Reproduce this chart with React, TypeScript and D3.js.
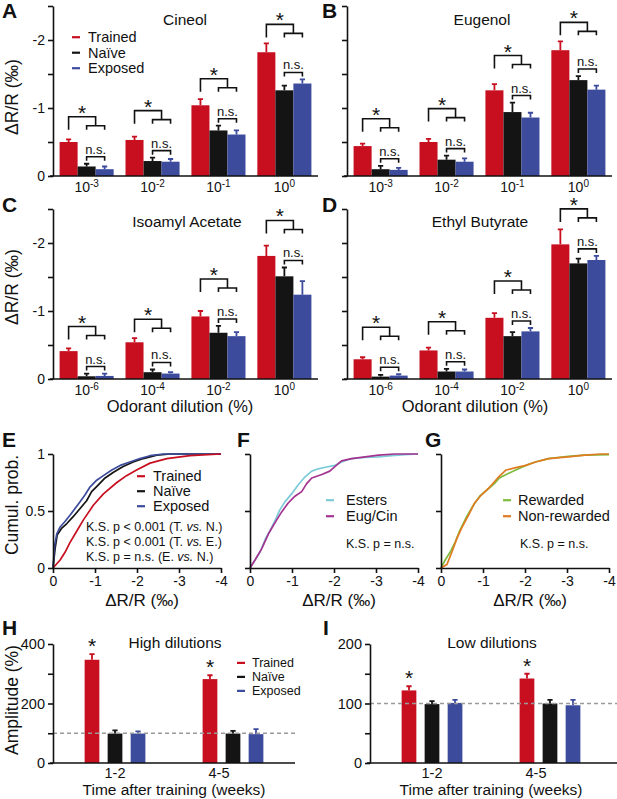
import React from 'react';
import * as d3 from 'd3';

const FONT = '"Liberation Sans", Arial, Helvetica, sans-serif';

const groups = ['Trained', 'Naïve', 'Exposed'];
const groupColors = ['#c70f1f', '#141414', '#3d4b9d'];

const dilutionsAB = ['-3', '-2', '-1', '0'];
const dilutionsCD = ['-6', '-4', '-2', '0'];

// A - Cineol (magnitude of the negative ΔR/R, ‰)
const cineolTrained = [0.5, 0.53, 1.04, 1.82];
const cineolTrainedSem = [0.04, 0.05, 0.09, 0.13];
const cineolNaive = [0.14, 0.22, 0.67, 1.26];
const cineolNaiveSem = [0.04, 0.05, 0.07, 0.07];
const cineolExposed = [0.1, 0.21, 0.61, 1.36];
const cineolExposedSem = [0.04, 0.04, 0.06, 0.06];

// B - Eugenol
const eugenolTrained = [0.44, 0.5, 1.26, 1.85];
const eugenolTrainedSem = [0.035, 0.045, 0.09, 0.13];
const eugenolNaive = [0.1, 0.24, 0.94, 1.41];
const eugenolNaiveSem = [0.05, 0.06, 0.14, 0.06];
const eugenolExposed = [0.09, 0.21, 0.86, 1.27];
const eugenolExposedSem = [0.03, 0.05, 0.07, 0.06];

// C - Isoamyl acetate
const isoamylTrained = [0.41, 0.54, 0.92, 1.81];
const isoamylTrainedSem = [0.04, 0.06, 0.08, 0.15];
const isoamylNaive = [0.04, 0.1, 0.68, 1.51];
const isoamylNaiveSem = [0.04, 0.04, 0.1, 0.13];
const isoamylExposed = [0.045, 0.08, 0.63, 1.24];
const isoamylExposedSem = [0.035, 0.02, 0.06, 0.2];

// D - Ethyl butyrate
const ethylTrained = [0.29, 0.42, 0.9, 1.98];
const ethylTrainedSem = [0.03, 0.04, 0.07, 0.22];
const ethylNaive = [0.035, 0.11, 0.63, 1.7];
const ethylNaiveSem = [0.025, 0.04, 0.06, 0.07];
const ethylExposed = [0.05, 0.11, 0.7, 1.75];
const ethylExposedSem = [0.02, 0.03, 0.05, 0.06];

// E - cumulative distributions [|ΔR/R|, prob]
const trainedCdf: [number, number][] = [
  [0, 0], [0.17, 0.07], [0.29, 0.14], [0.4, 0.22], [0.56, 0.32], [0.72, 0.42], [0.96, 0.55],
  [1.2, 0.65], [1.52, 0.75], [1.75, 0.81], [1.99, 0.86], [2.31, 0.92], [2.71, 0.96], [3.26, 0.985], [4, 1],
];
const naiveCdf: [number, number][] = [
  [0, 0], [0.05, 0.17], [0.1, 0.29], [0.21, 0.35], [0.33, 0.39], [0.48, 0.45], [0.64, 0.52],
  [0.8, 0.59], [0.92, 0.67], [1.08, 0.73], [1.24, 0.79], [1.44, 0.84], [1.67, 0.89], [1.91, 0.93],
  [2.15, 0.96], [2.47, 0.99], [2.79, 1], [4, 1],
];
const exposedCdf: [number, number][] = [
  [0, 0], [0.04, 0.2], [0.09, 0.3], [0.17, 0.36], [0.29, 0.41], [0.4, 0.46], [0.52, 0.52],
  [0.64, 0.58], [0.76, 0.64], [0.88, 0.71], [1.04, 0.77], [1.2, 0.81], [1.4, 0.86], [1.6, 0.9],
  [1.83, 0.93], [2.07, 0.96], [2.31, 0.985], [2.63, 1], [4, 1],
];

// F
const estersCdf: [number, number][] = [
  [0, 0], [0.12, 0.07], [0.24, 0.14], [0.36, 0.25], [0.48, 0.33], [0.6, 0.42], [0.71, 0.51],
  [0.83, 0.58], [0.99, 0.65], [1.15, 0.73], [1.31, 0.8], [1.47, 0.85], [1.63, 0.87], [1.87, 0.89],
  [2.02, 0.9], [2.18, 0.93], [2.42, 0.96], [2.74, 0.97], [3.06, 0.975], [3.37, 0.985], [3.69, 0.995], [4, 1],
];
const eugCinCdf: [number, number][] = [
  [0, 0], [0.12, 0.07], [0.28, 0.17], [0.44, 0.3], [0.6, 0.4], [0.75, 0.49], [0.91, 0.57],
  [1.07, 0.63], [1.23, 0.67], [1.35, 0.74], [1.47, 0.79], [1.71, 0.82], [1.9, 0.85], [2.02, 0.89],
  [2.18, 0.94], [2.42, 0.96], [2.74, 0.975], [3.06, 0.99], [3.45, 1], [4, 1],
];

// G
const rewardedCdf: [number, number][] = [
  [0, 0], [0.1, 0.07], [0.22, 0.14], [0.34, 0.23], [0.45, 0.33], [0.61, 0.45], [0.77, 0.55],
  [0.92, 0.63], [1.08, 0.68], [1.27, 0.74], [1.39, 0.79], [1.55, 0.82], [1.78, 0.86], [2.02, 0.9],
  [2.25, 0.93], [2.56, 0.96], [3.03, 0.98], [3.42, 0.99], [4, 0.995],
];
const nonRewardedCdf: [number, number][] = [
  [0, 0], [0.14, 0.03], [0.26, 0.14], [0.38, 0.26], [0.49, 0.35], [0.65, 0.46], [0.8, 0.57],
  [0.96, 0.64], [1.16, 0.71], [1.35, 0.79], [1.55, 0.86], [1.78, 0.88], [2.02, 0.9], [2.25, 0.93],
  [2.56, 0.96], [3.03, 0.975], [3.42, 0.99], [3.81, 1], [4, 1],
];

const cdfTicks = [0, 1, 2, 3, 4];
const ksE = ['K.S. p < 0.001 (T. vs. N.)', 'K.S. p < 0.001 (T. vs. E.)', 'K.S. p = n.s. (E. vs. N.)'];
const ksNs = ['K.S. p = n.s.'];

// H, I - amplitude (%)
const weeks = ['1-2', '4-5'];
const highTrained = [347, 282];
const highTrainedSem = [19, 13];
const highNaive = [99, 99];
const highNaiveSem = [11, 9];
const highExposed = [99, 97];
const highExposedSem = [7, 17];
const lowTrained = [122, 142];
const lowTrainedSem = [7, 8];
const lowNaive = [99, 100];
const lowNaiveSem = [5, 6];
const lowExposed = [101, 97];
const lowExposedSem = [5, 9];

type G = d3.Selection<SVGGElement, unknown, null, undefined>;

const letter = (g: G, t: string, x: number, y: number) =>
  g.append('text').attr('x', x).attr('y', y).attr('font-size', 21).attr('font-weight', 'bold').text(t);

const yAxis = (g: G, y: d3.ScaleLinear<number, number>, x0: number, ticks: number[], fmt: (d: number) => string, fs: number) => {
  const a = g.append('g').attr('transform', `translate(${x0},0)`)
    .call(d3.axisLeft(y).tickValues(ticks).tickSize(5).tickSizeOuter(0).tickPadding(3).tickFormat((d) => fmt(+d)));
  a.attr('font-size', fs).attr('font-family', FONT);
  a.selectAll('path, line').attr('stroke', '#111').attr('stroke-width', 1.6);
  a.selectAll('text').attr('fill', '#111');
};

const rotTitle = (g: G, t: string, x: number, y: number, fs: number) =>
  g.append('text').attr('transform', `translate(${x},${y}) rotate(-90)`).attr('text-anchor', 'middle')
    .attr('dominant-baseline', 'central').attr('font-size', fs).text(t);

const legend = (g: G, labels: string[], colors: string[], lx: number, tx: number, y0: number, dy: number, fs: number) => {
  labels.forEach((l, i) => {
    const yy = y0 + i * dy;
    g.append('line').attr('x1', lx).attr('x2', lx + 8).attr('y1', yy - fs * 0.33).attr('y2', yy - fs * 0.33)
      .attr('stroke', colors[i]).attr('stroke-width', 2.2);
    g.append('text').attr('x', tx).attr('y', yy).attr('font-size', fs).text(l);
  });
};

interface BarPanel {
  left: number; right: number; top: number; base: number;
  cats: string[]; means: number[][]; sems: number[][];
  title: string; titleX: number; titleY: number;
  yLabels: boolean; letterX: number; letterY: number; letterT: string;
}

function drawBarPanel(root: G, p: BarPanel) {
  const g = root.append('g');
  const x = d3.scaleBand<string>().domain(p.cats).range([p.left, p.right]).paddingInner(0.18).paddingOuter(0.1);
  const sub = d3.scaleBand<number>().domain([0, 1, 2]).range([0, x.bandwidth()]);
  const y = d3.scaleLinear().domain([0, 2.5]).range([p.base, p.top]);
  const cells = p.cats.flatMap((c, ci) => groups.map((_, si) => ({ c, ci, si, v: p.means[si][ci], e: p.sems[si][ci] })));
  const cx = (d: { c: string; si: number }) => x(d.c)! + sub(d.si)! + sub.bandwidth() / 2;

  g.selectAll('path.err').data(cells).join('path')
    .attr('d', (d) => `M${cx(d)},${y(d.v)}V${y(d.v + d.e)}M${cx(d) - 2.6},${y(d.v + d.e)}H${cx(d) + 2.6}`)
    .attr('stroke', (d) => groupColors[d.si]).attr('stroke-width', 1.8).attr('fill', 'none');
  g.selectAll('rect').data(cells).join('rect')
    .attr('x', (d) => x(d.c)! + sub(d.si)!).attr('y', (d) => y(d.v))
    .attr('width', sub.bandwidth()).attr('height', (d) => y(0) - y(d.v))
    .attr('fill', (d) => groupColors[d.si]);

  yAxis(g, y, p.left, [0, 0.5, 1, 1.5, 2, 2.5], (d) => (p.yLabels && Number.isInteger(d) ? (d === 0 ? '0' : `-${d}`) : ''), 14);
  g.append('line').attr('x1', p.left - 3).attr('x2', p.right).attr('y1', p.base).attr('y2', p.base)
    .attr('stroke', '#111').attr('stroke-width', 1.6);

  g.selectAll('text.xt').data(p.cats).join('text')
    .attr('x', (c) => x(c)! + x.bandwidth() / 2).attr('y', p.base + 16)
    .attr('text-anchor', 'middle').attr('font-size', 14)
    .each(function (c) {
      const t = d3.select(this);
      t.append('tspan').text('10');
      t.append('tspan').attr('dy', -5).attr('font-size', 10).text(c);
    });

  // significance brackets
  p.cats.forEach((c, ci) => {
    const bx = (si: number) => x(c)! + sub(si)! + sub.bandwidth() / 2;
    const tp = (si: number) => y(p.means[si][ci] + p.sems[si][ci]);
    const xR = bx(0), xK = bx(1), xB = bx(2), xM = (xK + xB) / 2;
    const nsY = Math.min(tp(1), tp(2)) - 7;
    const arm = Math.min(tp(0) - 6, nsY - 27);
    const hi = arm - 13;
    g.append('path').attr('d', `M${xK},${nsY + 4}V${nsY}H${xB}V${nsY + 4}`).attr('fill', 'none').attr('stroke', '#111').attr('stroke-width', 1.6);
    g.append('text').attr('x', xM).attr('y', nsY - 3).attr('text-anchor', 'middle').attr('font-size', 13).text('n.s.');
    g.append('path').attr('d', `M${xK},${arm}V${arm - 4}H${xB}V${arm}M${xR},${arm}V${hi}H${xM}V${arm - 4}`)
      .attr('fill', 'none').attr('stroke', '#111').attr('stroke-width', 1.6);
    g.append('text').attr('x', (xR + xM) / 2).attr('y', hi + 3).attr('text-anchor', 'middle').attr('font-size', 21).text('*');
  });

  g.append('text').attr('x', p.titleX).attr('y', p.titleY).attr('text-anchor', 'middle').attr('font-size', 15.5).text(p.title);
  letter(g, p.letterT, p.letterX, p.letterY);
}

interface CdfPanel {
  left: number; right: number; top: number; base: number;
  series: [number, number][][]; colors: string[]; labels: string[]; labelColors: string[];
  legLx: number; legTx: number; legY: number; legDy: number;
  ks: string[]; ksX: number; ksY: number;
  yLabels: boolean; letterT: string; letterX: number; letterY: number;
}

function drawCdfPanel(root: G, p: CdfPanel) {
  const g = root.append('g');
  const x = d3.scaleLinear().domain([0, 4]).range([p.left, p.right]);
  const y = d3.scaleLinear().domain([0, 1]).range([p.base, p.top]);
  const line = d3.line<[number, number]>().x((d) => x(d[0])).y((d) => y(d[1]));
  g.selectAll('path.cdf').data(p.series).join('path')
    .attr('d', (d) => line(d)).attr('fill', 'none')
    .attr('stroke', (_, i) => p.colors[i]).attr('stroke-width', 1.7).attr('stroke-linejoin', 'round');

  yAxis(g, y, p.left, [0, 0.5, 1], (d) => (p.yLabels ? String(d) : ''), 14);
  const xa = g.append('g').attr('transform', `translate(0,${p.base})`)
    .call(d3.axisBottom(x).tickValues(cdfTicks).tickSize(5).tickSizeOuter(0).tickPadding(3).tickFormat((d) => (+d === 0 ? '0' : `-${d}`)));
  xa.attr('font-size', 14).attr('font-family', FONT);
  xa.selectAll('path, line').attr('stroke', '#111').attr('stroke-width', 1.6);
  xa.selectAll('text').attr('fill', '#111');

  g.append('text').attr('x', (p.left + p.right) / 2 + 5).attr('y', p.base + 38).attr('text-anchor', 'middle')
    .attr('font-size', 17).text('ΔR/R (‰)');

  legend(g, p.labels, p.labelColors, p.legLx, p.legTx, p.legY, p.legDy, 14.5);

  p.ks.forEach((s, i) => {
    const t = g.append('text').attr('x', p.ksX).attr('y', p.ksY + i * 15).attr('font-size', 12.5);
    s.split('vs.').forEach((part, j) => {
      if (j > 0) t.append('tspan').attr('font-style', 'italic').text('vs.');
      t.append('tspan').text(part);
    });
  });
  letter(g, p.letterT, p.letterX, p.letterY);
}

interface AmpPanel {
  left: number; right: number; top: number; base: number; max: number; ticks: number[]; labelTicks: number[];
  means: number[][]; sems: number[][]; title: string; titleX: number;
  letterT: string; letterX: number; dashEnd: number; showLegend: boolean;
}

function drawAmpPanel(root: G, p: AmpPanel) {
  const g = root.append('g');
  const x = d3.scaleBand<string>().domain(weeks).range([p.left, p.right]).paddingInner(0.407).paddingOuter(0.229);
  const sub = d3.scaleBand<number>().domain([0, 1, 2]).range([0, x.bandwidth()]).paddingInner(0.36).paddingOuter(0.2);
  const y = d3.scaleLinear().domain([0, p.max]).range([p.base, p.top]);
  const cells = weeks.flatMap((c, ci) => groups.map((_, si) => ({ c, ci, si, v: p.means[si][ci], e: p.sems[si][ci] })));
  const cx = (d: { c: string; si: number }) => x(d.c)! + sub(d.si)! + sub.bandwidth() / 2;

  g.selectAll('path.err').data(cells).join('path')
    .attr('d', (d) => `M${cx(d)},${y(d.v)}V${y(d.v + d.e)}M${cx(d) - 2.6},${y(d.v + d.e)}H${cx(d) + 2.6}`)
    .attr('stroke', (d) => groupColors[d.si]).attr('stroke-width', 1.8).attr('fill', 'none');
  g.selectAll('rect').data(cells).join('rect')
    .attr('x', (d) => x(d.c)! + sub(d.si)!).attr('y', (d) => y(d.v))
    .attr('width', sub.bandwidth()).attr('height', (d) => y(0) - y(d.v))
    .attr('fill', (d) => groupColors[d.si]);

  g.append('line').attr('x1', p.left).attr('x2', p.dashEnd).attr('y1', y(100)).attr('y2', y(100))
    .attr('stroke', '#9a9a9a').attr('stroke-width', 1.6).attr('stroke-dasharray', '4,3');

  yAxis(g, y, p.left, p.ticks, (d) => (p.labelTicks.includes(d) ? String(d) : ''), 14.5);
  g.append('line').attr('x1', p.left - 3).attr('x2', p.dashEnd).attr('y1', p.base).attr('y2', p.base)
    .attr('stroke', '#111').attr('stroke-width', 1.6);

  g.selectAll('text.xt').data(weeks).join('text')
    .attr('x', (c, i) => x(c)! + x.bandwidth() / 2 - (i === 1 ? 14 : 0)).attr('y', p.base + 15)
    .attr('text-anchor', 'middle').attr('font-size', 14.5).text((c) => c);
  g.append('text').attr('x', (p.left + p.right) / 2).attr('y', p.base + 32).attr('text-anchor', 'middle')
    .attr('font-size', 15.5).text('Time after training (weeks)');

  // stars over trained bars
  weeks.forEach((c, ci) => {
    const bxR = x(c)! + sub(0)! + sub.bandwidth() / 2;
    g.append('text').attr('x', bxR).attr('y', y(p.means[0][ci] + p.sems[0][ci]) - 1)
      .attr('text-anchor', 'middle').attr('font-size', 21).text('*');
  });

  g.append('text').attr('x', p.titleX).attr('y', p.top + 4).attr('text-anchor', 'middle').attr('font-size', 15.5).text(p.title);
  if (p.showLegend) legend(g, groups, groupColors, 237, 252, 667, 14, 12.5);
  letter(g, p.letterT, p.letterX, 635);
}

export default function App() {
  const ref = React.useRef<SVGSVGElement>(null);

  React.useEffect(() => {
    const svg = d3.select(ref.current);
    svg.selectAll('*').remove();
    const root = svg.append('g').attr('font-family', FONT).attr('fill', '#111') as unknown as G;

    drawBarPanel(root, {
      left: 53, right: 318, top: 6, base: 176, cats: dilutionsAB,
      means: [cineolTrained, cineolNaive, cineolExposed], sems: [cineolTrainedSem, cineolNaiveSem, cineolExposedSem],
      title: 'Cineol', titleX: 185, titleY: 25, yLabels: true, letterT: 'A', letterX: 2, letterY: 18,
    });
    drawBarPanel(root, {
      left: 347, right: 612, top: 6, base: 176, cats: dilutionsAB,
      means: [eugenolTrained, eugenolNaive, eugenolExposed], sems: [eugenolTrainedSem, eugenolNaiveSem, eugenolExposedSem],
      title: 'Eugenol', titleX: 482, titleY: 25, yLabels: false, letterT: 'B', letterX: 322, letterY: 18,
    });
    drawBarPanel(root, {
      left: 53, right: 318, top: 209, base: 379, cats: dilutionsCD,
      means: [isoamylTrained, isoamylNaive, isoamylExposed], sems: [isoamylTrainedSem, isoamylNaiveSem, isoamylExposedSem],
      title: 'Isoamyl Acetate', titleX: 187, titleY: 227, yLabels: true, letterT: 'C', letterX: 2, letterY: 212,
    });
    drawBarPanel(root, {
      left: 347, right: 612, top: 209, base: 379, cats: dilutionsCD,
      means: [ethylTrained, ethylNaive, ethylExposed], sems: [ethylTrainedSem, ethylNaiveSem, ethylExposedSem],
      title: 'Ethyl Butyrate', titleX: 480, titleY: 227, yLabels: false, letterT: 'D', letterX: 322, letterY: 212,
    });
    legend(root, groups, groupColors, 72, 88, 42, 15.5, 14.5);
    rotTitle(root, 'ΔR/R (‰)', 12, 97, 17.5);
    rotTitle(root, 'ΔR/R (‰)', 12, 287, 17.5);
    root.append('text').attr('x', 180).attr('y', 412).attr('text-anchor', 'middle').attr('font-size', 16.5).text('Odorant dilution (%)');
    root.append('text').attr('x', 475).attr('y', 412).attr('text-anchor', 'middle').attr('font-size', 16.5).text('Odorant dilution (%)');

    drawCdfPanel(root, {
      left: 53, right: 221, top: 454, base: 568,
      series: [naiveCdf, exposedCdf, trainedCdf], colors: ['#141414', '#3d4b9d', '#c70f1f'],
      labels: groups, labelColors: groupColors, legLx: 137, legTx: 153, legY: 481, legDy: 15,
      ks: ksE, ksX: 86, ksY: 531, yLabels: true, letterT: 'E', letterX: 2, letterY: 447,
    });
    drawCdfPanel(root, {
      left: 250, right: 418, top: 454, base: 568,
      series: [estersCdf, eugCinCdf], colors: ['#7ccbd8', '#a3338f'],
      labels: ['Esters', 'Eug/Cin'], labelColors: ['#7ccbd8', '#a3338f'], legLx: 326, legTx: 346, legY: 505, legDy: 16,
      ks: ksNs, ksX: 346, ksY: 548, yLabels: false, letterT: 'F', letterX: 237, letterY: 447,
    });
    drawCdfPanel(root, {
      left: 441, right: 609, top: 454, base: 568,
      series: [rewardedCdf, nonRewardedCdf], colors: ['#7dbb3c', '#e07b22'],
      labels: ['Rewarded', 'Non-rewarded'], labelColors: ['#7dbb3c', '#e07b22'], legLx: 503, legTx: 518, legY: 505, legDy: 16,
      ks: ksNs, ksX: 520, ksY: 548, yLabels: false, letterT: 'G', letterX: 425, letterY: 447,
    });
    rotTitle(root, 'Cumul. prob.', 12, 505, 17.5);

    drawAmpPanel(root, {
      left: 53, right: 295, top: 644, base: 763, max: 400, ticks: [0, 100, 200, 300, 400], labelTicks: [0, 200, 400],
      means: [highTrained, highNaive, highExposed], sems: [highTrainedSem, highNaiveSem, highExposedSem],
      title: 'High dilutions', titleX: 175, letterT: 'H', letterX: 2, dashEnd: 295, showLegend: true,
    });
    drawAmpPanel(root, {
      left: 370, right: 612, top: 644, base: 763, max: 200, ticks: [0, 50, 100, 150, 200], labelTicks: [0, 100, 200],
      means: [lowTrained, lowNaive, lowExposed], sems: [lowTrainedSem, lowNaiveSem, lowExposedSem],
      title: 'Low dilutions', titleX: 492, letterT: 'I', letterX: 323, dashEnd: 617, showLegend: false,
    });
    rotTitle(root, 'Amplitude (%)', 12, 700, 17.5);
  }, []);

  return (
    <svg ref={ref} width={617} height={799}
      style={{ position: 'absolute', left: 0, top: 0, background: '#fff' }} />
  );
}
